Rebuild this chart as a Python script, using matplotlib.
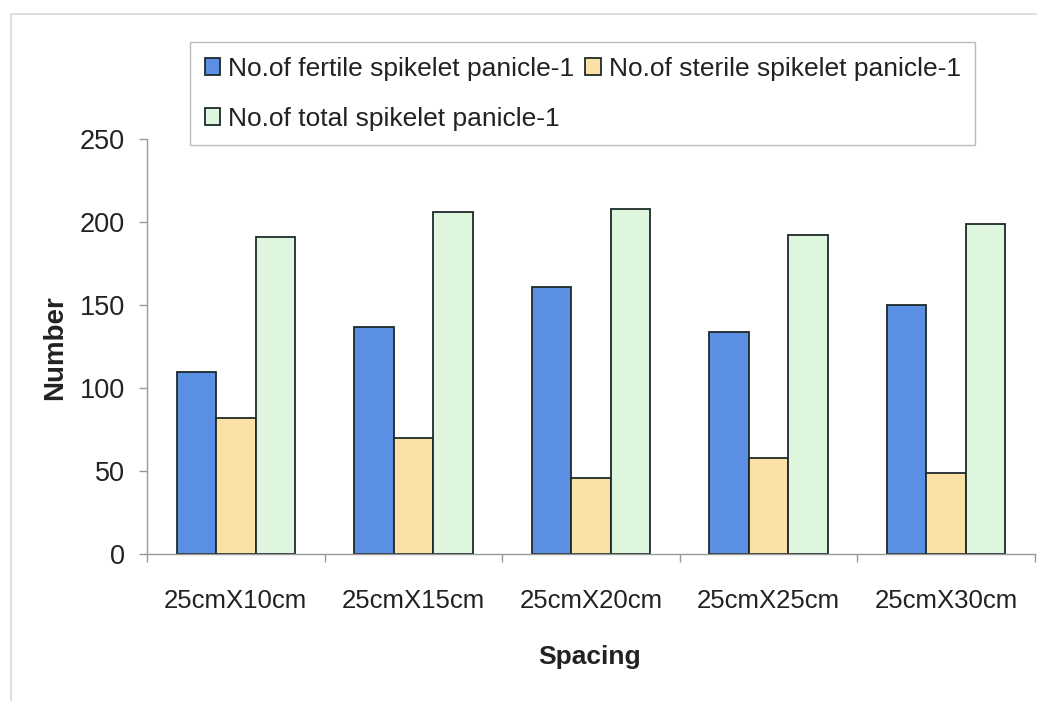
import matplotlib
matplotlib.use("Agg")
import matplotlib.pyplot as plt
import numpy as np
from matplotlib.patches import Rectangle

categories = ["25cmX10cm", "25cmX15cm", "25cmX20cm", "25cmX25cm", "25cmX30cm"]
fertile = [110, 137, 161, 134, 150]
sterile = [82, 70, 46, 58, 49]
total = [191, 206, 208, 192, 199]
series_names = ["No.of fertile spikelet panicle-1",
                "No.of sterile spikelet panicle-1",
                "No.of total spikelet panicle-1"]
yticks = [0, 50, 100, 150, 200, 250]

plt.rcParams['font.family'] = ['Liberation Sans', 'DejaVu Sans']

W, H = 1037, 701
fig = plt.figure(figsize=(W / 100, H / 100), dpi=100)
fig.patch.set_facecolor("white")
# faint outer frame (right and bottom edges fall outside the image)
fig.patches.append(Rectangle((11 / W, -0.05), 1.1, 1.05 - 14 / H, transform=fig.transFigure,
                             fill=False, edgecolor="#d8d8d8", linewidth=1.2))

ax = fig.add_axes([147 / W, 1 - 554.4 / H, (1035 - 147) / W, (554.4 - 139) / H])

x = np.arange(len(categories))
bw = 0.222
colors = ["#5b8fe3", "#fbe1a6", "#def6de"]
edge = "#1e2a2a"
b1 = ax.bar(x - bw, fertile, bw, color=colors[0], edgecolor=edge, linewidth=1.3, label=series_names[0])
b2 = ax.bar(x, sterile, bw, color=colors[1], edgecolor=edge, linewidth=1.3, label=series_names[1])
b3 = ax.bar(x + bw, total, bw, color=colors[2], edgecolor=edge, linewidth=1.3, label=series_names[2])

ax.set_xlim(-0.5, len(categories) - 0.5)
ax.set_ylim(0, 250)
ax.set_yticks(yticks)
ax.set_yticklabels([str(v) for v in yticks], fontsize=19.5, color="#222222")
ax.set_xticks(x)
ax.set_xticklabels(categories, fontsize=18.5, color="#222222")
ax.set_xticks(np.arange(len(categories) + 1) - 0.5, minor=True)
ax.tick_params(axis="x", which="major", length=0, pad=25)
ax.tick_params(axis="x", which="minor", length=6, color="#999999", width=1)
ax.tick_params(axis="y", length=6, color="#999999", width=1, pad=10)

for s in ["top", "right"]:
    ax.spines[s].set_visible(False)
for s in ["left", "bottom"]:
    ax.spines[s].set_color("#999999")
    ax.spines[s].set_linewidth(1)

fig.text(55 / W, 1 - 348 / H, "Number", rotation=90, fontsize=20, fontweight="bold",
         ha="center", va="center", color="#222222")
fig.text(590 / W, 1 - 657 / H, "Spacing", fontsize=19, fontweight="bold",
         ha="center", va="center", color="#222222")

handles = [b1, b3, b2]
labels = [series_names[0], series_names[2], series_names[1]]
leg = fig.legend(handles, labels, ncol=2, loc="upper left",
                 bbox_to_anchor=(190 / W, 1 - 42 / H), fontsize=19,
                 frameon=True, fancybox=False, edgecolor="#aaaaaa",
                 handlelength=0.6, handleheight=0.6, handletextpad=0.3,
                 columnspacing=0.4, labelspacing=1.0, borderpad=0.55,
                 borderaxespad=0)
leg.get_frame().set_linewidth(1)
for t in leg.get_texts():
    t.set_color("#222222")

fig.savefig("out.png", dpi=100)
